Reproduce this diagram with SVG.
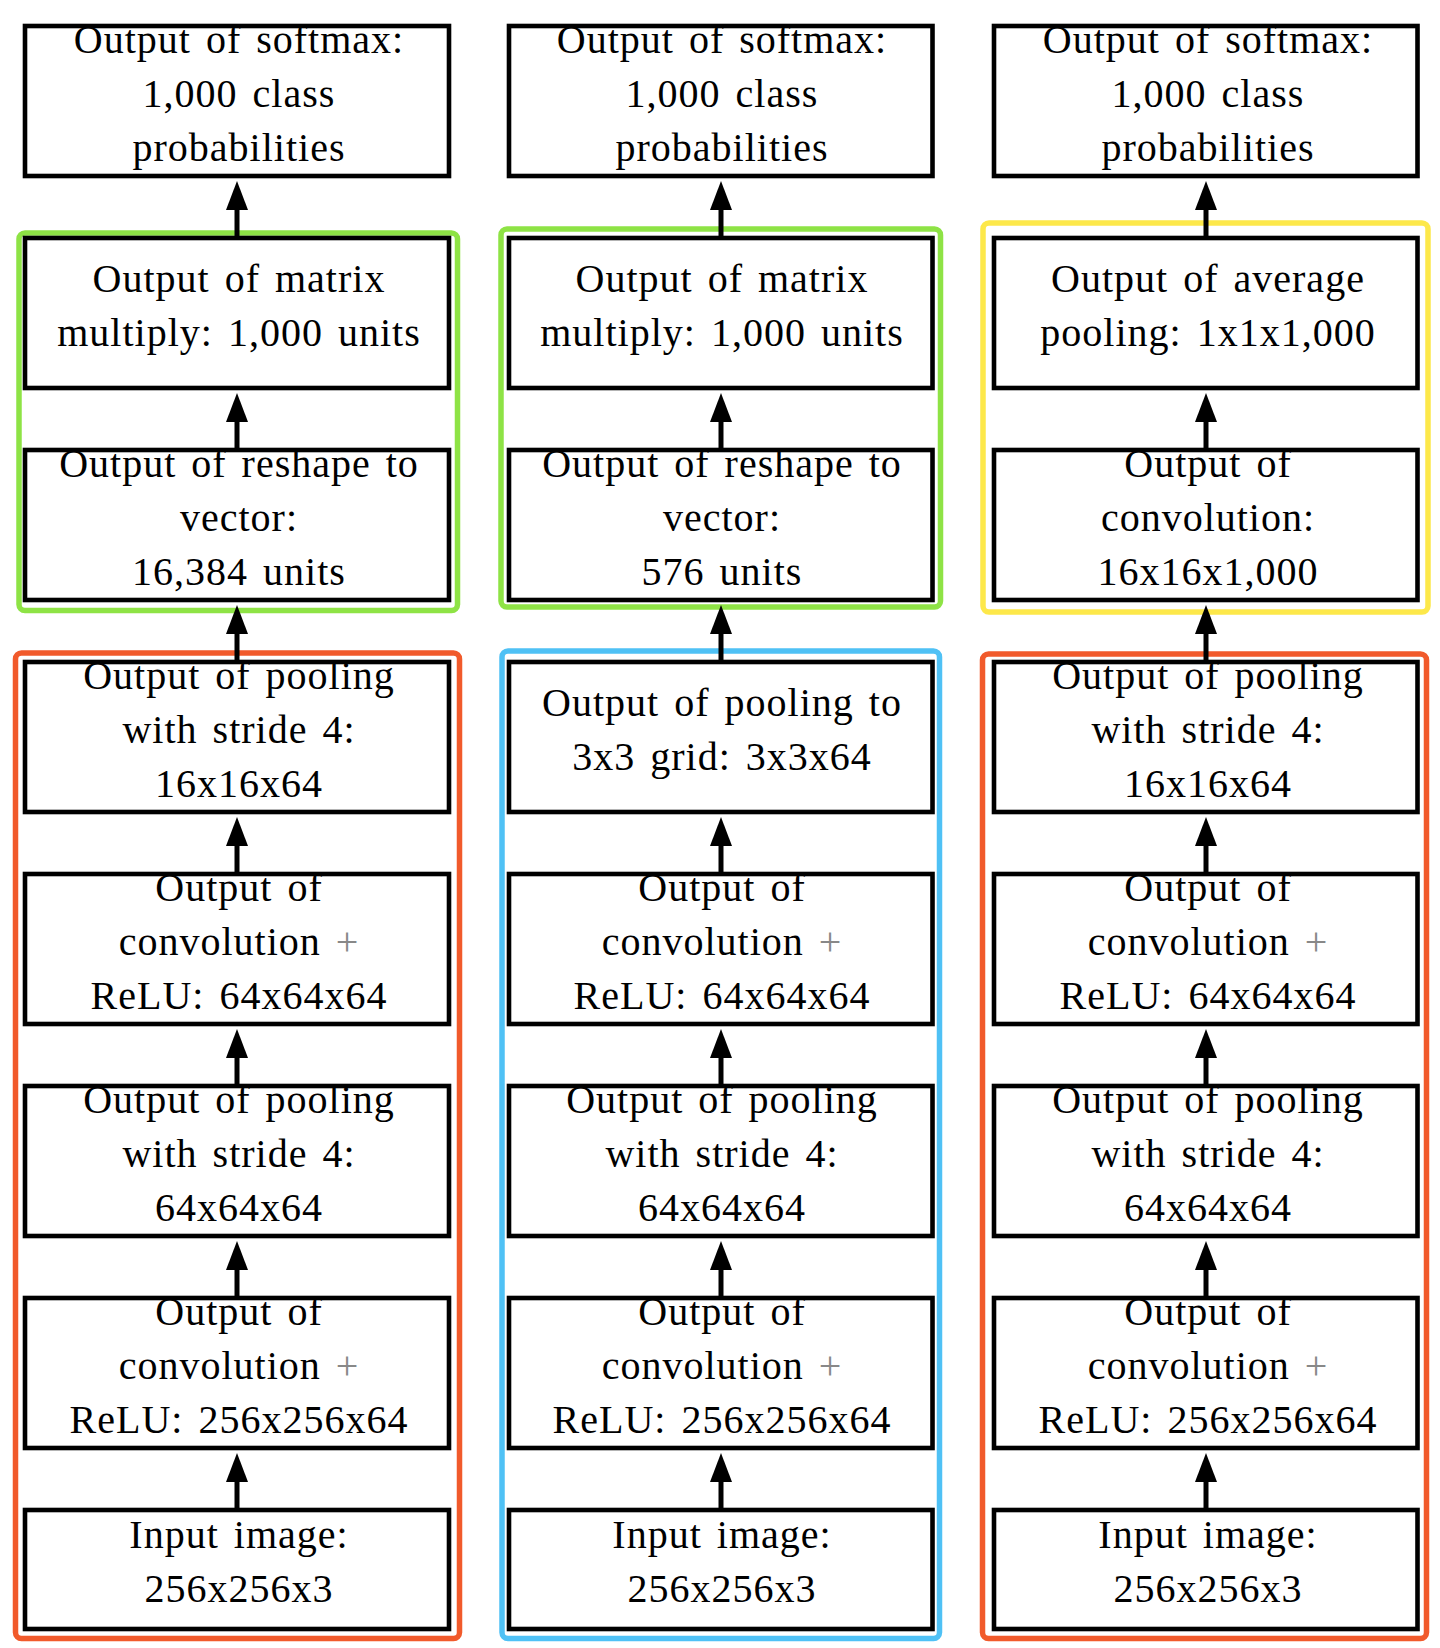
<svg xmlns="http://www.w3.org/2000/svg" width="1440" height="1648" viewBox="0 0 1440 1648">
<style>
.box{fill:#fff;stroke:#000;stroke-width:4.6}
.grp{fill:none;stroke-width:5.5}
.green{stroke:#8ee345}
.red{stroke:#f15a2b}
.blue{stroke:#4fc1f5}
.yellow{stroke:#fde84a}
text{font-family:"Liberation Serif","Times New Roman",serif;font-size:40px;fill:#000;text-anchor:middle;letter-spacing:1px;word-spacing:4px}
.plus{fill:#888}
.conn{stroke:#000;stroke-width:5;fill:none;marker-end:url(#ah)}
</style>
<defs>
<marker id="ah" markerUnits="userSpaceOnUse" markerWidth="30" markerHeight="24" viewBox="0 -12 30 24" refX="0" refY="0" orient="auto" overflow="visible">
<path d="M0,-11 L29,0 L0,11 z" fill="#000"/>
</marker>
</defs>
<rect width="1440" height="1648" fill="#fff"/>

<g id="containers">
<rect id="c1-green" class="grp green" x="19" y="233" width="438.5" height="377.5" rx="6"/>
<rect id="c1-red" class="grp red" x="15.5" y="653" width="444" height="985.5" rx="6"/>
<rect id="c2-green" class="grp green" x="501" y="229" width="439.5" height="378" rx="6"/>
<rect id="c2-blue" class="grp blue" x="502" y="651" width="437.5" height="987.5" rx="6"/>
<rect id="c3-yellow" class="grp yellow" x="983" y="223" width="445" height="389" rx="6"/>
<rect id="c3-red" class="grp red" x="982.5" y="654" width="444" height="984.5" rx="6"/>
</g>

<!-- Column 1 -->
<g id="n1-softmax"><rect class="box" x="25" y="26" width="424" height="150"/>
<text x="239" y="52.5">Output of softmax:</text><text x="239" y="106.5">1,000 class</text><text x="239" y="160.5">probabilities</text></g>
<g id="n1-matmul"><rect class="box" x="25" y="238" width="424" height="150"/>
<text x="239" y="291.5">Output of matrix</text><text x="239" y="345.5">multiply: 1,000 units</text></g>
<g id="n1-reshape"><rect class="box" x="25" y="450" width="424" height="150"/>
<text x="239" y="476.5">Output of reshape to</text><text x="239" y="530.5">vector:</text><text x="239" y="584.5">16,384 units</text></g>
<g id="n1-pool2"><rect class="box" x="25" y="662" width="424" height="150"/>
<text x="239" y="688.5">Output of pooling</text><text x="239" y="742.5">with stride 4:</text><text x="239" y="796.5">16x16x64</text></g>
<g id="n1-conv2"><rect class="box" x="25" y="874" width="424" height="150"/>
<text x="239" y="900.5">Output of</text><text x="239" y="954.5">convolution <tspan class="plus">+</tspan></text><text x="239" y="1008.5">ReLU: 64x64x64</text></g>
<g id="n1-pool1"><rect class="box" x="25" y="1086" width="424" height="150"/>
<text x="239" y="1112.5">Output of pooling</text><text x="239" y="1166.5">with stride 4:</text><text x="239" y="1220.5">64x64x64</text></g>
<g id="n1-conv1"><rect class="box" x="25" y="1298" width="424" height="150"/>
<text x="239" y="1324.5">Output of</text><text x="239" y="1378.5">convolution <tspan class="plus">+</tspan></text><text x="239" y="1432.5">ReLU: 256x256x64</text></g>
<g id="n1-input"><rect class="box" x="25" y="1510" width="424" height="119"/>
<text x="239" y="1548">Input image:</text><text x="239" y="1602">256x256x3</text></g>

<!-- Column 2 -->
<g id="n2-softmax"><rect class="box" x="509" y="26" width="423.5" height="150"/>
<text x="722" y="52.5">Output of softmax:</text><text x="722" y="106.5">1,000 class</text><text x="722" y="160.5">probabilities</text></g>
<g id="n2-matmul"><rect class="box" x="509" y="238" width="423.5" height="150"/>
<text x="722" y="291.5">Output of matrix</text><text x="722" y="345.5">multiply: 1,000 units</text></g>
<g id="n2-reshape"><rect class="box" x="509" y="450" width="423.5" height="150"/>
<text x="722" y="476.5">Output of reshape to</text><text x="722" y="530.5">vector:</text><text x="722" y="584.5">576 units</text></g>
<g id="n2-pool2"><rect class="box" x="509" y="662" width="423.5" height="150"/>
<text x="722" y="715.5">Output of pooling to</text><text x="722" y="769.5">3x3 grid: 3x3x64</text></g>
<g id="n2-conv2"><rect class="box" x="509" y="874" width="423.5" height="150"/>
<text x="722" y="900.5">Output of</text><text x="722" y="954.5">convolution <tspan class="plus">+</tspan></text><text x="722" y="1008.5">ReLU: 64x64x64</text></g>
<g id="n2-pool1"><rect class="box" x="509" y="1086" width="423.5" height="150"/>
<text x="722" y="1112.5">Output of pooling</text><text x="722" y="1166.5">with stride 4:</text><text x="722" y="1220.5">64x64x64</text></g>
<g id="n2-conv1"><rect class="box" x="509" y="1298" width="423.5" height="150"/>
<text x="722" y="1324.5">Output of</text><text x="722" y="1378.5">convolution <tspan class="plus">+</tspan></text><text x="722" y="1432.5">ReLU: 256x256x64</text></g>
<g id="n2-input"><rect class="box" x="509" y="1510" width="423.5" height="119"/>
<text x="722" y="1548">Input image:</text><text x="722" y="1602">256x256x3</text></g>

<!-- Column 3 -->
<g id="n3-softmax"><rect class="box" x="994" y="26" width="423.5" height="150"/>
<text x="1208" y="52.5">Output of softmax:</text><text x="1208" y="106.5">1,000 class</text><text x="1208" y="160.5">probabilities</text></g>
<g id="n3-avgpool"><rect class="box" x="994" y="238" width="423.5" height="150"/>
<text x="1208" y="291.5">Output of average</text><text x="1208" y="345.5">pooling: 1x1x1,000</text></g>
<g id="n3-conv3"><rect class="box" x="994" y="450" width="423.5" height="150"/>
<text x="1208" y="476.5">Output of</text><text x="1208" y="530.5">convolution:</text><text x="1208" y="584.5">16x16x1,000</text></g>
<g id="n3-pool2"><rect class="box" x="994" y="662" width="423.5" height="150"/>
<text x="1208" y="688.5">Output of pooling</text><text x="1208" y="742.5">with stride 4:</text><text x="1208" y="796.5">16x16x64</text></g>
<g id="n3-conv2"><rect class="box" x="994" y="874" width="423.5" height="150"/>
<text x="1208" y="900.5">Output of</text><text x="1208" y="954.5">convolution <tspan class="plus">+</tspan></text><text x="1208" y="1008.5">ReLU: 64x64x64</text></g>
<g id="n3-pool1"><rect class="box" x="994" y="1086" width="423.5" height="150"/>
<text x="1208" y="1112.5">Output of pooling</text><text x="1208" y="1166.5">with stride 4:</text><text x="1208" y="1220.5">64x64x64</text></g>
<g id="n3-conv1"><rect class="box" x="994" y="1298" width="423.5" height="150"/>
<text x="1208" y="1324.5">Output of</text><text x="1208" y="1378.5">convolution <tspan class="plus">+</tspan></text><text x="1208" y="1432.5">ReLU: 256x256x64</text></g>
<g id="n3-input"><rect class="box" x="994" y="1510" width="423.5" height="119"/>
<text x="1208" y="1548">Input image:</text><text x="1208" y="1602">256x256x3</text></g>

<g id="connectors">
<path class="conn" d="M237,238 V210"/>
<path class="conn" d="M237,450 V422"/>
<path class="conn" d="M237,662 V634"/>
<path class="conn" d="M237,874 V846"/>
<path class="conn" d="M237,1086 V1058"/>
<path class="conn" d="M237,1298 V1270"/>
<path class="conn" d="M237,1510 V1482"/>
<path class="conn" d="M721,238 V210"/>
<path class="conn" d="M721,450 V422"/>
<path class="conn" d="M721,662 V634"/>
<path class="conn" d="M721,874 V846"/>
<path class="conn" d="M721,1086 V1058"/>
<path class="conn" d="M721,1298 V1270"/>
<path class="conn" d="M721,1510 V1482"/>
<path class="conn" d="M1206,238 V210"/>
<path class="conn" d="M1206,450 V422"/>
<path class="conn" d="M1206,662 V634"/>
<path class="conn" d="M1206,874 V846"/>
<path class="conn" d="M1206,1086 V1058"/>
<path class="conn" d="M1206,1298 V1270"/>
<path class="conn" d="M1206,1510 V1482"/>
</g>
</svg>
